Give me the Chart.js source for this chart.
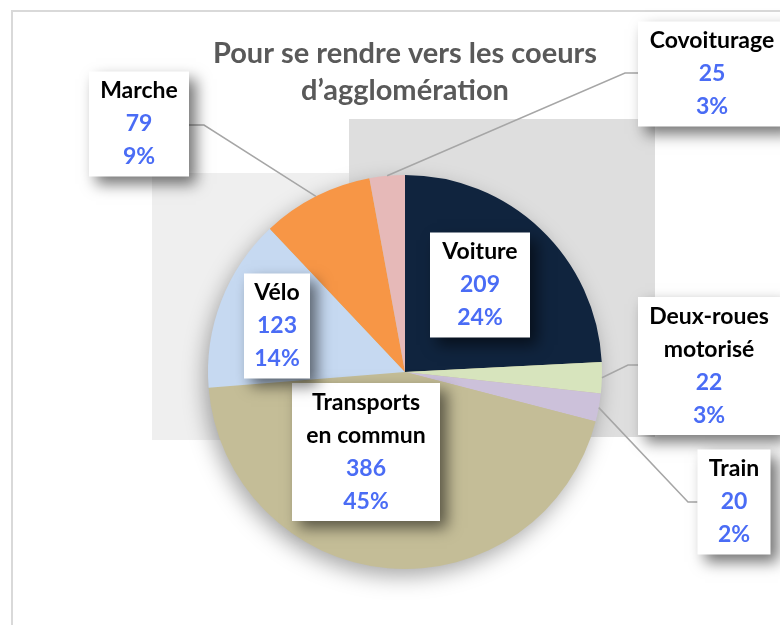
<!DOCTYPE html>
<html>
<head>
<meta charset="utf-8">
<script src="https://cdn.jsdelivr.net/npm/chart.js@4.4.1/dist/chart.umd.min.js"></script>
<style>
  html, body { margin: 0; padding: 0; background: #ffffff; }
  #wrap { position: relative; width: 780px; height: 625px; }
</style>
</head>
<body>
<div id="wrap"><canvas id="chart" width="780" height="625"></canvas></div>
<script>
// data
const categories = ['Voiture', 'Deux-roues motorisé', 'Train', 'Transports en commun', 'Vélo', 'Marche', 'Covoiturage'];
const labelLines = [['Voiture'], ['Deux-roues', 'motorisé'], ['Train'], ['Transports', 'en commun'], ['Vélo'], ['Marche'], ['Covoiturage']];
const counts = [209, 22, 20, 386, 123, 79, 25];
const colors = ['#10243e', '#d7e4bd', '#ccc1da', '#c4bd97', '#c6d9f1', '#f79646', '#e6b9b8'];

const titleLines = ['Pour se rendre vers les coeurs', 'd\u2019agglomération'];

// where each label box sits (box centre), and the elbow of the leader line if outside
const boxLayout = [
  { cx: 480, cy: 285, w: 100, inside: true },
  { cx: 709, cy: 366, w: 142, elbow: [628, 365], side: 'left' },
  { cx: 734, cy: 502, w: 73, elbow: [688, 502], side: 'left' },
  { cx: 366, cy: 452, w: 148, inside: true },
  { cx: 277, cy: 326, w: 66, inside: true },
  { cx: 139, cy: 124, w: 100, elbow: [204, 125], side: 'right' },
  { cx: 712, cy: 74, w: 148, elbow: [625, 73], side: 'left' }
];

const FONT = 'Lato, "Open Sans", sans-serif';
const LINE_H = 33;

const total = counts.reduce((a, b) => a + b, 0);

const backdrop = {
  id: 'backdrop',
  beforeDraw(chart) {
    const ctx = chart.ctx;
    ctx.save();
    ctx.fillStyle = '#ffffff';
    ctx.fillRect(0, 0, chart.width, chart.height);
    // chart frame
    ctx.strokeStyle = '#d9d9d9';
    ctx.lineWidth = 2;
    ctx.strokeRect(12, 11, 800, 700);
    // grey shading behind the plot
    ctx.fillStyle = '#efefef';
    ctx.fillRect(152, 173, 200, 267);
    ctx.fillStyle = '#dedede';
    ctx.fillRect(349, 119, 306, 318);
    // title
    ctx.fillStyle = '#595959';
    ctx.font = 'bold 29px ' + FONT;
    ctx.textAlign = 'center';
    ctx.textBaseline = 'middle';
    titleLines.forEach((t, i) => ctx.fillText(t, 405, 54 + i * 37));
    ctx.restore();
  },
  beforeDatasetsDraw(chart) {
    const arc = chart.getDatasetMeta(0).data[0];
    const ctx = chart.ctx;
    ctx.save();
    ctx.shadowColor = 'rgba(0,0,0,0.35)';
    ctx.shadowBlur = 22;
    ctx.shadowOffsetX = -4;
    ctx.shadowOffsetY = 8;
    ctx.fillStyle = '#c4bd97';
    ctx.beginPath();
    ctx.arc(arc.x, arc.y, arc.outerRadius - 1, 0, Math.PI * 2);
    ctx.fill();
    ctx.restore();
  }
};

const dataLabels = {
  id: 'dataLabels',
  afterDatasetsDraw(chart) {
    const ctx = chart.ctx;
    const arcs = chart.getDatasetMeta(0).data;
    ctx.save();
    arcs.forEach((arc, i) => {
      const lay = boxLayout[i];
      const lines = labelLines[i];
      const n = lines.length + 2;
      const h = n * LINE_H + 6;
      const x0 = lay.cx - lay.w / 2;
      const y0 = lay.cy - h / 2;

      // leader line from the slice edge
      if (!lay.inside) {
        const mid = (arc.startAngle + arc.endAngle) / 2;
        const px = arc.x + Math.cos(mid) * arc.outerRadius;
        const py = arc.y + Math.sin(mid) * arc.outerRadius;
        const bx = lay.side === 'left' ? x0 : x0 + lay.w;
        ctx.strokeStyle = '#a6a6a6';
        ctx.lineWidth = 1.5;
        ctx.beginPath();
        ctx.moveTo(px, py);
        ctx.lineTo(lay.elbow[0], lay.elbow[1]);
        ctx.lineTo(bx, lay.elbow[1]);
        ctx.stroke();
      }

      // white box with soft shadow
      ctx.save();
      ctx.shadowColor = 'rgba(0,0,0,0.55)';
      ctx.shadowBlur = 14;
      ctx.shadowOffsetX = 7;
      ctx.shadowOffsetY = 7;
      ctx.fillStyle = '#ffffff';
      ctx.fillRect(x0, y0, lay.w, h);
      ctx.restore();

      ctx.textAlign = 'center';
      ctx.textBaseline = 'middle';
      ctx.font = 'bold 23px ' + FONT;
      let y = y0 + 3 + LINE_H / 2;
      ctx.fillStyle = '#000000';
      lines.forEach(l => { ctx.fillText(l, lay.cx, y); y += LINE_H; });
      ctx.fillStyle = '#4a6cf5';
      ctx.fillText(String(counts[i]), lay.cx, y);
      y += LINE_H;
      ctx.fillText(Math.round(counts[i] / total * 100) + '%', lay.cx, y);
    });
    ctx.restore();
  }
};

new Chart(document.getElementById('chart'), {
  type: 'pie',
  data: {
    labels: categories,
    datasets: [{
      data: counts,
      backgroundColor: colors,
      borderWidth: 0,
      hoverOffset: 0
    }]
  },
  options: {
    responsive: false,
    animation: false,
    layout: { padding: { left: 208, right: 178, top: 175, bottom: 56 } },
    plugins: {
      legend: { display: false },
      title: { display: false },
      tooltip: { enabled: false }
    }
  },
  plugins: [backdrop, dataLabels]
});
</script>
</body>
</html>
